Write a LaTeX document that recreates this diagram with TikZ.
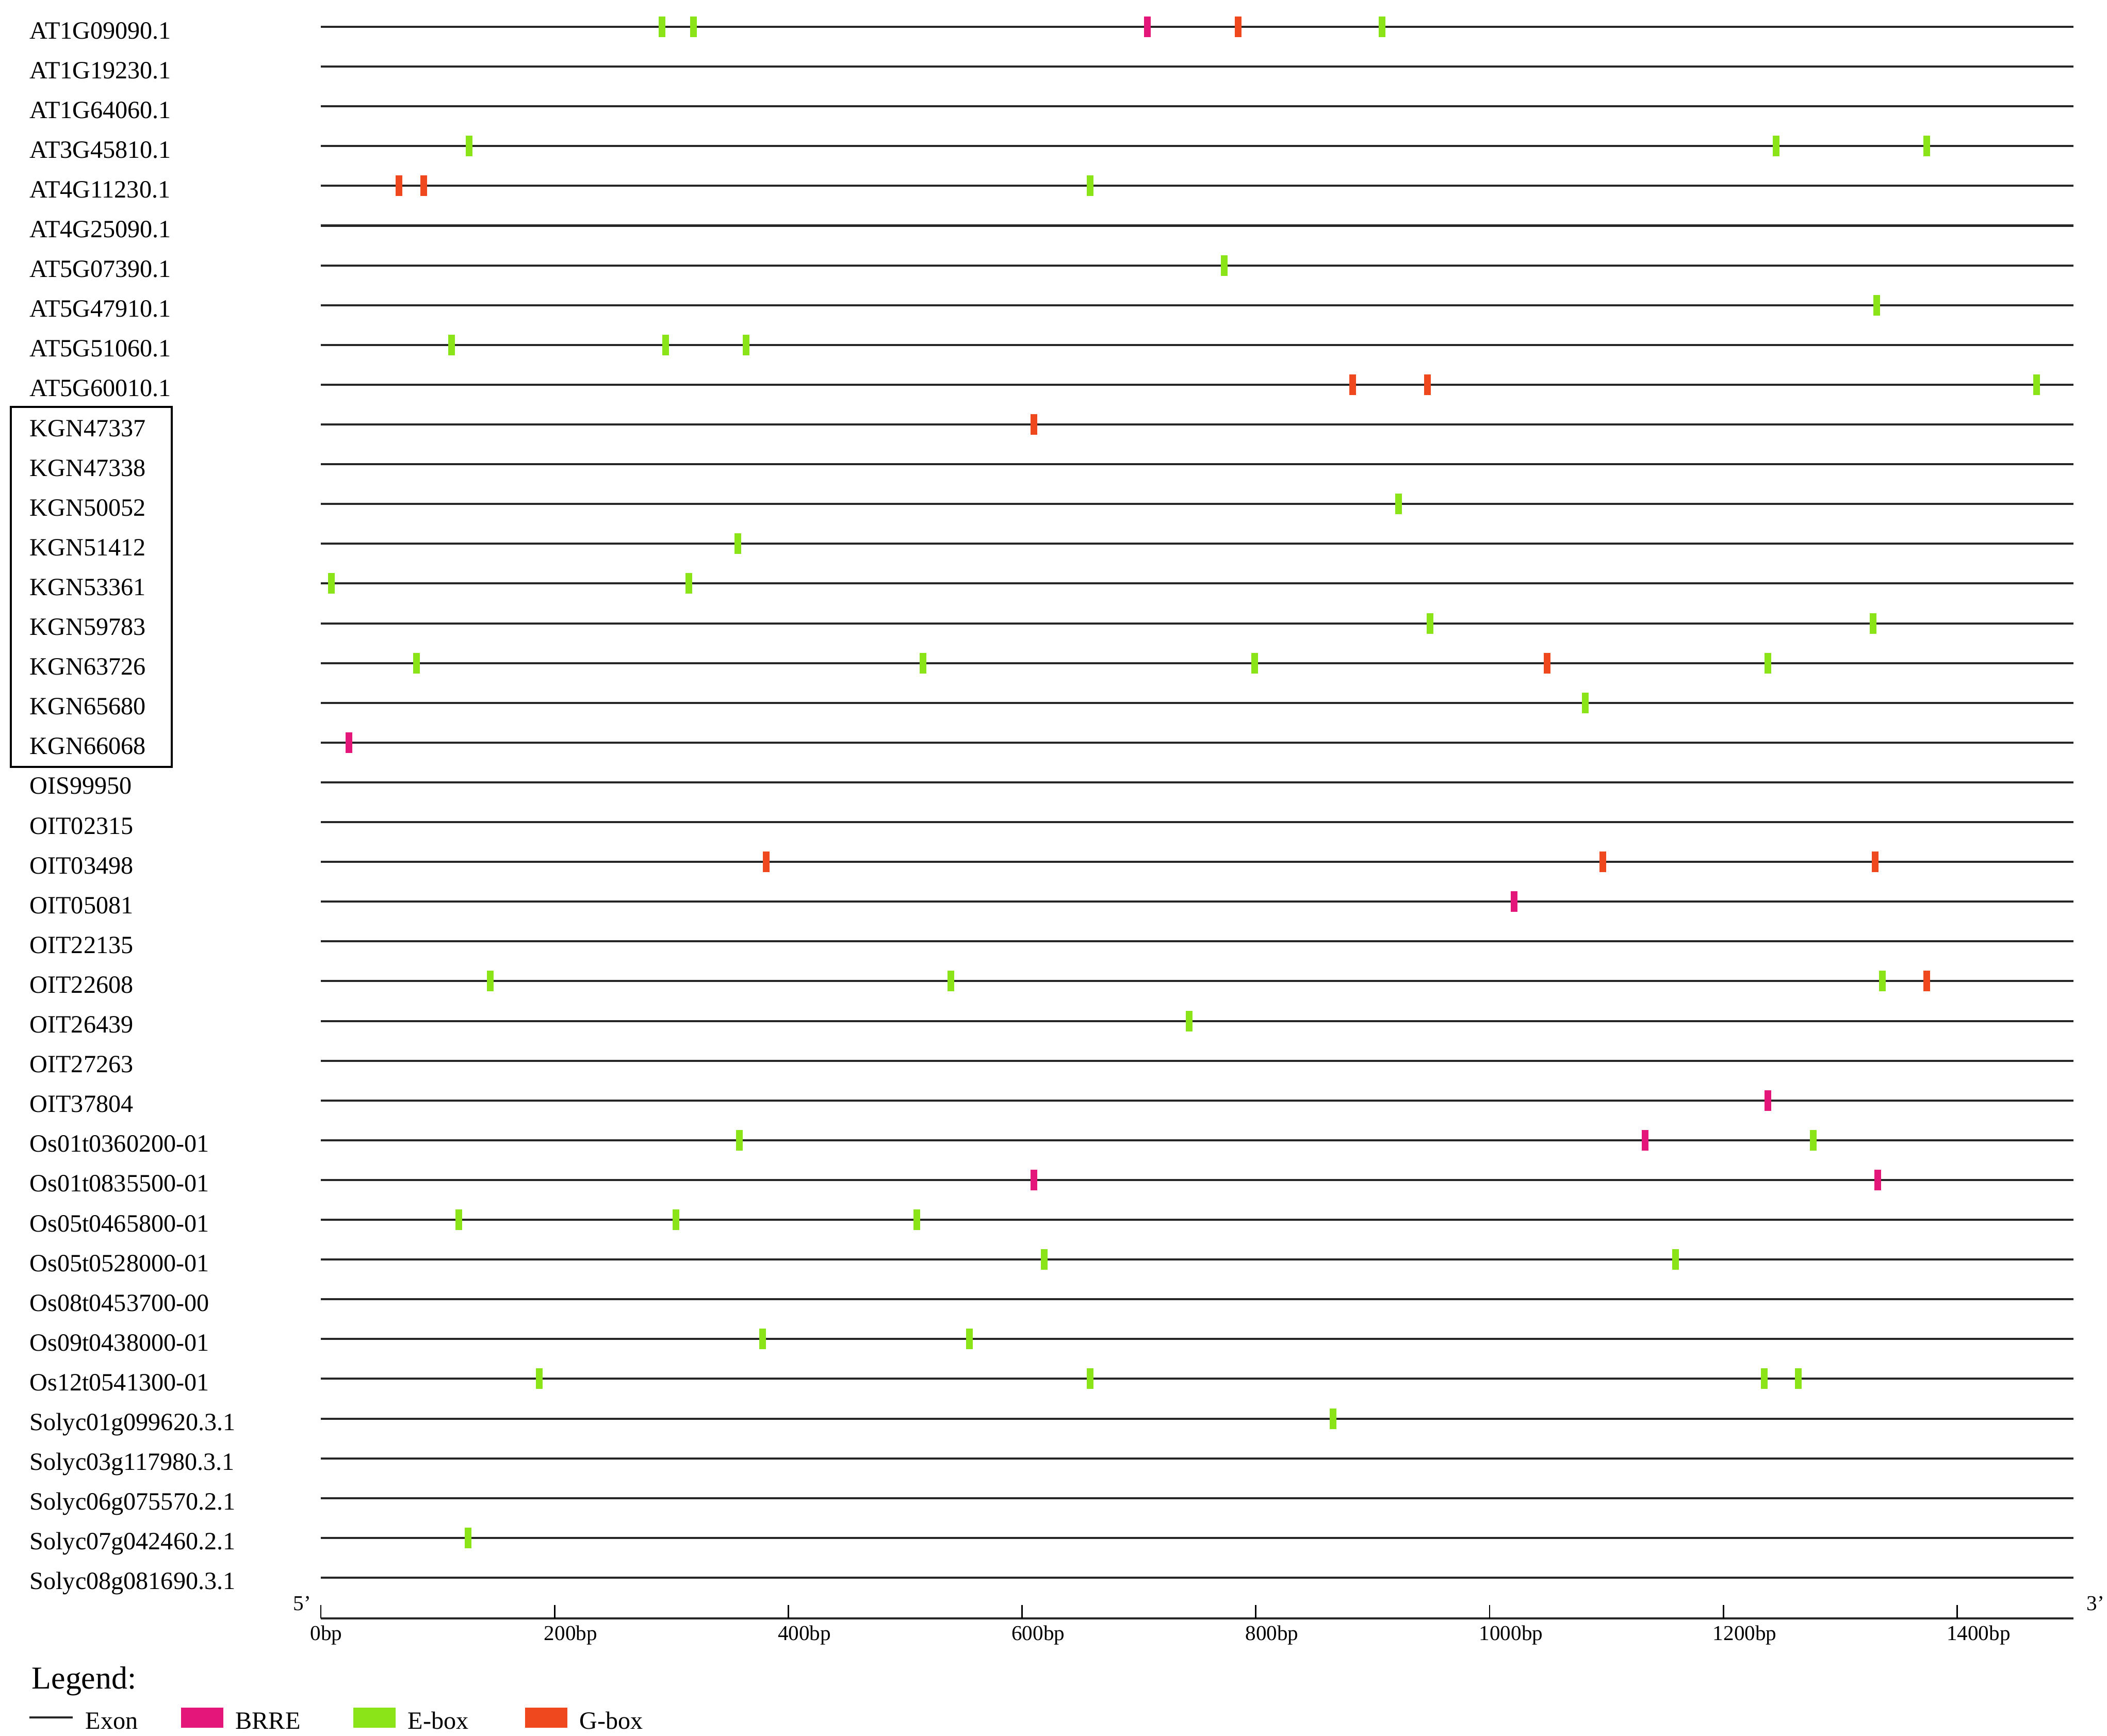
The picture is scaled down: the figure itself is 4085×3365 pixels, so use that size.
\documentclass[tikz,border=0pt]{standalone}
\usepackage{fontspec}
\setmainfont{Liberation Serif}
\usetikzlibrary{positioning}
\definecolor{brre}{RGB}{228,22,122}
\definecolor{ebox}{RGB}{138,228,24}
\definecolor{gbox}{RGB}{240,72,30}

\begin{document}
\begin{tikzpicture}[x=0.01cm, y=-0.01cm, exon/.style = {line width=1.15pt, black!85}, gene/.style = {anchor=base west, inner sep=0pt, font=\fontsize{13.7}{16}\selectfont}, motif/.style = {inner sep=0pt, minimum width=0.13cm, minimum height=0.40cm}, scalelabel/.style = {anchor=base west, inner sep=0pt, font=\fontsize{11.7}{14}\selectfont}, key/.style = {inner sep=0pt, minimum width=0.82cm, minimum height=0.39cm}]
    \useasboundingbox (0,0) rectangle (4085,3365);
    \foreach \name [count=\i] in {AT1G09090.1, AT1G19230.1, AT1G64060.1, AT3G45810.1, AT4G11230.1, AT4G25090.1, AT5G07390.1, AT5G47910.1, AT5G51060.1, AT5G60010.1, KGN47337, KGN47338, KGN50052, KGN51412, KGN53361, KGN59783, KGN63726, KGN65680, KGN66068, OIS99950, OIT02315, OIT03498, OIT05081, OIT22135, OIT22608, OIT26439, OIT27263, OIT37804, Os01t0360200-01, Os01t0835500-01, Os05t0465800-01, Os05t0528000-01, Os08t0453700-00, Os09t0438000-01, Os12t0541300-01, Solyc01g099620.3.1, Solyc03g117980.3.1, Solyc06g075570.2.1, Solyc07g042460.2.1, Solyc08g081690.3.1} {
        \node[gene] (g\i) at (57, {52+77.1*(\i-1)+23}) {\name};
        \coordinate (s\i) at (622, {52+77.1*(\i-1)});
        \coordinate (e\i) at (4020, {52+77.1*(\i-1)});
        \draw[exon] (s\i) -- (e\i);
    }
    \draw[line width=1pt] (21,789) rectangle (333,1487);
    \foreach \r/\bp/\c in {1/292/ebox, 1/319/ebox, 1/707/brre, 1/785/gbox, 1/908/ebox,
        4/127/ebox, 4/1245/ebox, 4/1374/ebox, 5/67/gbox, 5/88/gbox, 5/658/ebox,
        7/773/ebox, 8/1331/ebox, 9/112/ebox, 9/295/ebox, 9/364/ebox,
        10/883/gbox, 10/947/gbox, 10/1468/ebox, 11/610/gbox, 13/922/ebox, 14/357/ebox,
        15/9/ebox, 15/315/ebox, 16/949/ebox, 16/1328/ebox,
        17/82/ebox, 17/515/ebox, 17/799/ebox, 17/1049/gbox, 17/1238/ebox,
        18/1082/ebox, 19/24/brre, 22/381/gbox, 22/1097/gbox, 22/1330/gbox, 23/1021/brre,
        25/145/ebox, 25/539/ebox, 25/1336/ebox, 25/1374/gbox, 26/743/ebox, 28/1238/brre,
        29/358/ebox, 29/1133/brre, 29/1277/ebox, 30/610/brre, 30/1332/brre,
        31/118/ebox, 31/304/ebox, 31/510/ebox, 32/619/ebox, 32/1159/ebox,
        34/378/ebox, 34/555/ebox, 35/187/ebox, 35/658/ebox, 35/1235/ebox, 35/1264/ebox,
        36/866/ebox, 39/126/ebox} {
        \node[motif, fill=\c] (m\r-\bp) at ({622+2.266*\bp}, {52+77.1*(\r-1)}) {};
    }
    \coordinate (a0) at (622,3138);
    \coordinate (a1) at (4020,3138);
    \draw[exon] (a0) -- (a1);
    \foreach \t in {0,200,...,1400} {
        \coordinate (t\t) at ({622+2.266*\t},3138);
        \draw[line width=0.8pt] (t\t) -- ++(0,-26);
        \node[scalelabel] (l\t) at ({622+2.266*\t-21},3180) {\t bp};
    }
    \node[scalelabel] (five) at (568,3122) {5{\char39}};
    \node[scalelabel] (three) at (4045,3122) {3{\char39}};
    \node[anchor=base west, inner sep=0pt, font=\fontsize{17.6}{20}\selectfont] (legend) at (61,3274) {Legend:};
    \coordinate (x0) at (57,3330);
    \coordinate (x1) at (141,3330);
    \draw[exon] (x0) -- (x1);
    \node[gene] (exon) at (165,3352) {Exon};
    \node[key, fill=brre] (k1) at (392,3330) {};
    \node[gene] (brretext) at (456,3352) {BRRE};
    \node[key, fill=ebox] (k2) at (726,3330) {};
    \node[gene] (eboxtext) at (790,3352) {E-box};
    \node[key, fill=gbox] (k3) at (1059,3330) {};
    \node[gene] (gboxtext) at (1123,3352) {G-box};
\end{tikzpicture}
\end{document}
